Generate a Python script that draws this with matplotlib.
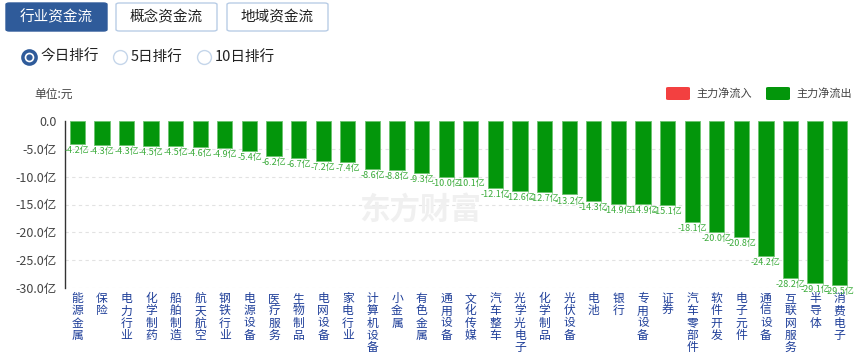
import matplotlib.pyplot as plt
from matplotlib.patches import FancyBboxPatch

plt.rcParams['font.family'] = ['Noto Sans CJK SC', 'DejaVu Sans']

names = ['能源金属', '保险', '电力行业', '化学制药', '船舶制造', '航天航空', '钢铁行业', '电源设备',
         '医疗服务', '生物制品', '电网设备', '家电行业', '计算机设备', '小金属', '有色金属', '通用设备',
         '文化传媒', '汽车整车', '光学光电子', '化学制品', '光伏设备', '电池', '银行', '专用设备',
         '证券', '汽车零部件', '软件开发', '电子元件', '通信设备', '互联网服务', '半导体', '消费电子']
values = [-4.2, -4.3, -4.3, -4.5, -4.5, -4.6, -4.9, -5.4, -6.2, -6.7, -7.2, -7.4, -8.6, -8.8, -9.3, -10.0,
          -10.1, -12.1, -12.6, -12.7, -13.2, -14.3, -14.9, -14.9, -15.1, -18.1, -20.0, -20.8, -24.2,
          -28.2, -29.1, -29.5]
yticks = [0, -5, -10, -15, -20, -25, -30]
ytick_labels = ['0.0', '-5.0亿', '-10.0亿', '-15.0亿', '-20.0亿', '-25.0亿', '-30.0亿']

W, H = 856, 364
fig = plt.figure(figsize=(W / 100, H / 100), dpi=100)

def fx(px):
    return px / W

def fy(py):
    return 1 - py / H

# tabs
tabs = ['行业资金流', '概念资金流', '地域资金流']
tab_x = [6, 116, 227]
for i, t in enumerate(tabs):
    active = i == 0
    box = FancyBboxPatch((fx(tab_x[i]), fy(31)), fx(101), 28 / H,
                         boxstyle='round,pad=0,rounding_size=0.004',
                         transform=fig.transFigure,
                         facecolor='#2f5b9a' if active else 'white',
                         edgecolor='#2f5b9a' if active else '#b9cde6', lw=1)
    fig.add_artist(box)
    fig.text(fx(tab_x[i] + 50.5), fy(17), t, ha='center', va='center', fontsize=10.5,
             color='white' if active else '#222222')

# radio buttons
radios = ['今日排行', '5日排行', '10日排行']
radio_x = [29, 120, 204]
for i, r in enumerate(radios):
    if i == 0:
        fig.add_artist(plt.Line2D([fx(radio_x[i])], [fy(57)], marker='o', ms=9.5,
                                  mfc='white', mec='#2f5b9a', mew=2.5, transform=fig.transFigure))
        fig.add_artist(plt.Line2D([fx(radio_x[i])], [fy(57)], marker='o', ms=3.5,
                                  mfc='#2f5b9a', mec='#2f5b9a', transform=fig.transFigure))
    else:
        fig.add_artist(plt.Line2D([fx(radio_x[i])], [fy(57)], marker='o', ms=10,
                                  mfc='white', mec='#c5d6ea', mew=1, transform=fig.transFigure))
    fig.text(fx(radio_x[i] + 11), fy(57), r, ha='left', va='center', fontsize=10.5, color='#222222')

fig.text(fx(34), fy(94), '单位:元', ha='left', va='center', fontsize=8.5, color='#444444')

# legend
for lx, c, lab in [(666, '#f34040', '主力净流入'), (766, '#03960b', '主力净流出')]:
    box = FancyBboxPatch((fx(lx), fy(100)), fx(24), 13 / H,
                         boxstyle='round,pad=0,rounding_size=0.003',
                         transform=fig.transFigure, facecolor=c, edgecolor='none')
    fig.add_artist(box)
    fig.text(fx(lx + 30), fy(93.5), lab, ha='left', va='center', fontsize=8, color='#444444')

# watermark
fig.text(fx(420), fy(210), '东方财富', ha='center', va='center', fontsize=22,
         color='#f0f0f0', fontweight='bold', zorder=0)

# chart
ax = fig.add_axes([fx(65), fy(288), fx(852 - 65), (288 - 121) / H])
ax.patch.set_alpha(0)
x = list(range(len(names)))
ax.bar(x, values, width=0.62, color='#03960b', edgecolor='#6cc46f', lw=0.6, zorder=3)
ax.set_xlim(-0.5, len(names) - 0.5)
ax.set_ylim(-30, 0)
ax.set_yticks(yticks)
ax.set_yticklabels(ytick_labels, fontsize=9, color='#444444')
ax.set_xticks([])
for s in ['top', 'right', 'bottom']:
    ax.spines[s].set_visible(False)
ax.spines['left'].set_color('#333333')
ax.spines['left'].set_linewidth(1)
ax.tick_params(axis='y', length=0, pad=6)
for t in yticks[1:]:
    ax.axhline(t, color='#e2e2e2', lw=0.8, ls=(0, (3, 3)), zorder=1)

for i, v in enumerate(values):
    ax.annotate('%.1f亿' % v, (i, v), xytext=(0, -1.5), textcoords='offset points',
                ha='center', va='top', fontsize=6.5, color='#3aab3a', zorder=4)
    ax.annotate('\n'.join(names[i]), (i, -30), xytext=(0, -3), textcoords='offset points',
                ha='center', va='top', fontsize=8.5, color='#1f3f99', linespacing=0.92,
                annotation_clip=False)

fig.savefig('out.png', dpi=100)
